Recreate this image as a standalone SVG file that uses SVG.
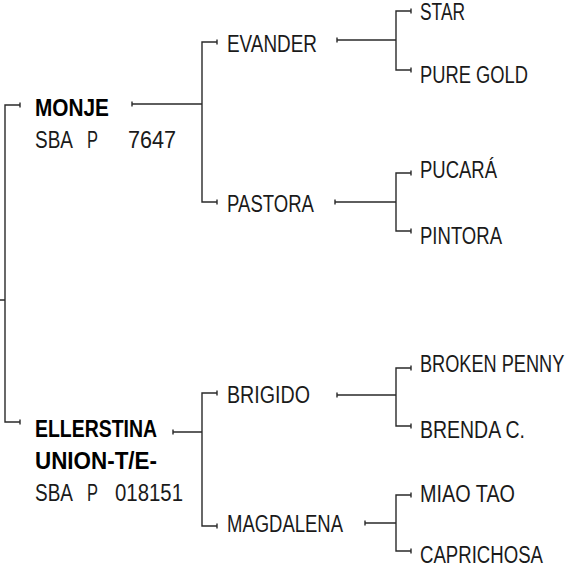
<svg xmlns="http://www.w3.org/2000/svg" width="573" height="567" viewBox="0 0 573 567">
<style>
.t{font-family:"Liberation Sans",Arial,sans-serif;font-size:23px;fill:#1a1a1a}
.b{font-weight:bold;fill:#000}
.c{fill:none;stroke:#2a2a2a;stroke-width:1.4}
</style>
<rect width="573" height="567" fill="#fff"/>
<g id="connectors" class="c">
<path d="M0,300H5M20,105H5V422H20M20,102.5V107.5M20,419.5V424.5"/>
<path d="M132,104H202M132,101.5V106.5M217,42H202V202H217M217,39.5V44.5M217,199.5V204.5"/>
<path d="M337,40H396M337,37.5V42.5M411,11H396V70H411M411,8.5V13.5M411,67.5V72.5"/>
<path d="M335,202H396M335,199.5V204.5M411,173H396V231H411M411,170.5V175.5M411,228.5V233.5"/>
<path d="M173,432H202M173,429.5V434.5M217,393H202V526H217M217,390.5V395.5M217,523.5V528.5"/>
<path d="M337,395H396M337,392.5V397.5M411,368H396V426H411M411,365.5V370.5M411,423.5V428.5"/>
<path d="M365,523H396M365,520.5V525.5M411,495H396V551H411M411,492.5V497.5M411,548.5V553.5"/>
</g>
<g id="monje">
<text class="t b" x="35" y="116" textLength="74" lengthAdjust="spacingAndGlyphs">MONJE</text>
<text class="t" y="148"><tspan x="35" textLength="38" lengthAdjust="spacingAndGlyphs">SBA</tspan><tspan x="87" textLength="11" lengthAdjust="spacingAndGlyphs">P</tspan><tspan x="128" textLength="48" lengthAdjust="spacingAndGlyphs">7647</tspan></text>
</g>
<g id="ellerstina">
<text class="t b" x="35" y="437" textLength="122" lengthAdjust="spacingAndGlyphs">ELLERSTINA</text>
<text class="t b" x="35" y="469" textLength="122" lengthAdjust="spacingAndGlyphs">UNION-T/E-</text>
<text class="t" y="501"><tspan x="35" textLength="38" lengthAdjust="spacingAndGlyphs">SBA</tspan><tspan x="87" textLength="11" lengthAdjust="spacingAndGlyphs">P</tspan><tspan x="115" textLength="68" lengthAdjust="spacingAndGlyphs">018151</tspan></text>
</g>
<g id="evander"><text class="t" x="227" y="52" textLength="90" lengthAdjust="spacingAndGlyphs">EVANDER</text></g>
<g id="pastora"><text class="t" x="227" y="212" textLength="87" lengthAdjust="spacingAndGlyphs">PASTORA</text></g>
<g id="brigido"><text class="t" x="227" y="403" textLength="83" lengthAdjust="spacingAndGlyphs">BRIGIDO</text></g>
<g id="magdalena"><text class="t" x="227" y="532" textLength="116" lengthAdjust="spacingAndGlyphs">MAGDALENA</text></g>
<g id="star"><text class="t" x="420" y="20" textLength="45" lengthAdjust="spacingAndGlyphs">STAR</text></g>
<g id="pure-gold"><text class="t" x="420" y="83" textLength="108" lengthAdjust="spacingAndGlyphs">PURE GOLD</text></g>
<g id="pucara"><text class="t" x="420" y="178" textLength="77" lengthAdjust="spacingAndGlyphs">PUCARÁ</text></g>
<g id="pintora"><text class="t" x="420" y="244" textLength="82" lengthAdjust="spacingAndGlyphs">PINTORA</text></g>
<g id="broken-penny"><text class="t" transform="translate(420 372) scale(0.79 1)" x="0" y="0">BROKEN PENNY</text></g>
<g id="brenda-c"><text class="t" x="420" y="438" textLength="105" lengthAdjust="spacingAndGlyphs">BRENDA C.</text></g>
<g id="miao-tao"><text class="t" x="420" y="502" textLength="95" lengthAdjust="spacingAndGlyphs">MIAO TAO</text></g>
<g id="caprichosa"><text class="t" x="420" y="563" textLength="123" lengthAdjust="spacingAndGlyphs">CAPRICHOSA</text></g>
</svg>
